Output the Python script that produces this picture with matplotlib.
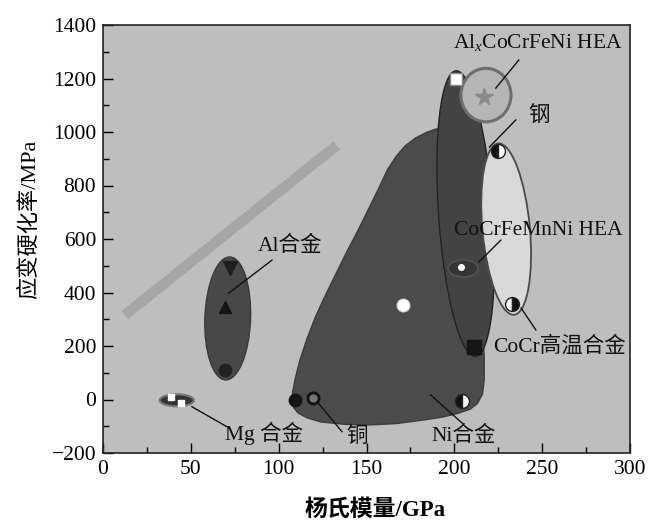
import numpy as np
import matplotlib
matplotlib.use('Agg')
import matplotlib.pyplot as plt
from matplotlib.patches import Ellipse
from matplotlib.transforms import Affine2D
from matplotlib.ticker import MultipleLocator

plt.rcParams['font.family'] = ['Liberation Serif', 'Noto Sans CJK SC', 'DejaVu Sans']
plt.rcParams['mathtext.fontset'] = 'custom'
plt.rcParams['mathtext.rm'] = 'Liberation Serif'
plt.rcParams['mathtext.it'] = 'Liberation Serif:italic'

# big Cu / Ni region outline (GPa, MPa)
big_x = [193, 189, 184, 178, 172, 167, 162, 157, 151, 145, 139, 133, 127, 121, 116, 112, 109.5,
         108, 107.5, 108.5, 111, 116, 124, 138, 152, 167, 181, 193, 202, 209, 213, 216, 217,
         217, 216, 212, 205, 199]
big_y = [1015, 1010, 998, 978, 948, 910, 860, 790, 710, 630, 555, 475, 395, 310, 225, 145, 80,
         30, 0, -30, -50, -68, -84, -93, -95, -90, -78, -66, -52, -36, -16, 20, 73,
         160, 300, 600, 850, 990]

# reference band
band_x = [12.5, 133]
band_y = [316, 950]

# ellipses: centre x, centre y, width (GPa), height (MPa), tilt (deg)
ell_names = ['Al', 'Mg', 'steel', 'CoCr', 'CoCrFeMnNi', 'AlxCoCrFeNi']
ell_cx = [71, 42, 206.5, 229.5, 205, 218]
ell_cy = [303, -3, 695, 637, 490, 1138]
ell_w = [26, 19.5, 31, 27, 17, 28.5]
ell_h = [460, 45, 1070, 643, 64, 200]
ell_ang = [-2, 0, 3.9, 5.3, 0, 0]

# markers
al_x = [72.4, 69.6, 69.6]
al_y = [491, 346, 110]
mg_x = [38.7, 44.6]
mg_y = [8, -13]
cu_x = [109.5, 119.8]
cu_y = [-3, 4]
ni_x, ni_y = 204.6, -5
white_x, white_y = 171, 355
sq_x, sq_y = 211, 197
cocr_x = [233, 225]
cocr_y = [357, 930]
steel_sq_x, steel_sq_y = 201, 1200
star_x, star_y = 217, 1131
hea_x, hea_y = 203.6, 495

# labels: text, text centre, leader start, leader end
lab_text = [r'Al$_{x}$CoCrFeNi HEA', '钢', 'CoCrFeMnNi HEA', 'CoCr高温合金',
            'Ni合金', '铜', 'Mg 合金', 'Al合金']
lab_xy = [(247.6, 1333), (248, 1056), (247.8, 632), (260, 197),
          (205.5, -138), (144.5, -140), (91.5, -125), (106.7, 575)]
lead_from = [(223.6, 1164), (220, 944), (214, 514), (238, 342),
             (186.5, 17), (122.6, -14), (50.6, -27), (71.5, 397)]
lead_to = [(236.7, 1269), (235, 1045), (226.5, 596), (246.4, 260),
           (204.6, -89), (136, -120), (70.6, -102), (96.2, 521)]

fig = plt.figure(figsize=(6.55, 5.28), dpi=100)
ax = fig.add_axes([103 / 655, 1 - 453 / 528, 527 / 655, 428 / 528])
ax.set_xlim(0, 300)
ax.set_ylim(-200, 1400)
ax.set_facecolor('#bebebe')

# y units per x unit on screen, so tilted ellipses look right
k = (1600 / 428.0) / (300 / 527.0)

def add_ell(i, fc, ec, lw, z):
    tr = Affine2D().scale(1, k) + ax.transData
    e = Ellipse((ell_cx[i], ell_cy[i] / k), ell_w[i], ell_h[i] / k, angle=ell_ang[i],
                transform=tr, facecolor=fc, edgecolor=ec, linewidth=lw, zorder=z)
    ax.add_patch(e)

ax.plot(band_x, band_y, color='#a6a6a6', lw=7.5, solid_capstyle='butt', zorder=1)

ax.fill(big_x, big_y, facecolor='#4b4b4b', edgecolor='#3c3c3c', lw=1, joinstyle='round', zorder=2)
add_ell(0, '#484848', '#3a3a3a', 1, 2)
add_ell(1, '#333333', '#777777', 1.5, 2)
add_ell(2, '#434343', '#222222', 1, 3)
add_ell(3, '#d9d9d9', '#4a4a4a', 1.3, 4)
add_ell(4, '#363636', '#555555', 1, 5)
add_ell(5, '#b6b6b6', '#6e6e6e', 2.2, 5)

mk = dict(linestyle='none', zorder=6)
ax.plot(al_x[0], al_y[0], marker='v', ms=10, color='#1e1e1e', **mk)
ax.plot(al_x[1], al_y[1], marker='^', ms=9, color='#151515', **mk)
ax.plot(al_x[2], al_y[2], marker='o', ms=9, color='#222222', **mk)
ax.plot(mg_x, mg_y, marker='s', ms=5, color='white', **mk)
ax.plot(cu_x[0], cu_y[0], marker='o', ms=9, color='#151515', **mk)
ax.plot(cu_x[1], cu_y[1], marker='o', ms=8, mfc='#777777', mec='#111111', mew=2, **mk)
ax.plot(ni_x, ni_y, marker='o', ms=10, fillstyle='left', mfc='#111111', mfcalt='white', mec='#222222', **mk)
ax.plot(white_x, white_y, marker='o', ms=9, mfc='white', mec='#dddddd', **mk)
ax.plot(sq_x, sq_y, marker='s', ms=10, color='#151515', **mk)
ax.plot(cocr_x[0], cocr_y[0], marker='o', ms=10, fillstyle='left', mfc='white', mfcalt='#111111', mec='#222222', **mk)
ax.plot(cocr_x[1], cocr_y[1], marker='o', ms=10, fillstyle='left', mfc='#111111', mfcalt='white', mec='#222222', **mk)
ax.plot(steel_sq_x, steel_sq_y, marker='s', ms=9, mfc='white', mec='#888888', **mk)
ax.plot(star_x, star_y, marker='*', ms=13, color='#8a8a8a', **mk)
ax.plot(hea_x, hea_y, marker='o', ms=4, color='white', **mk)

for t, xy, a, b in zip(lab_text, lab_xy, lead_from, lead_to):
    ax.plot([a[0], b[0]], [a[1], b[1]], color='#111111', lw=1, zorder=7)
    ax.text(xy[0], xy[1], t, ha='center', va='center', fontsize=15.5, color='#111111', zorder=8)

ax.xaxis.set_major_locator(MultipleLocator(50))
ax.xaxis.set_minor_locator(MultipleLocator(25))
ax.yaxis.set_major_locator(MultipleLocator(200))
ax.yaxis.set_minor_locator(MultipleLocator(100))
ax.tick_params(which='both', direction='in', top=False, right=False, width=1, labelsize=15.5)
ax.tick_params(which='major', length=7, pad=5)
ax.tick_params(which='minor', length=4)
for s in ax.spines.values():
    s.set_linewidth(1.2)
    s.set_color('#222222')

fig.text(375 / 655, 1 - 510 / 528, '杨氏模量/GPa', ha='center', va='center',
         fontsize=16.5, fontweight='bold')
fig.text(30 / 655, 1 - 219 / 528, '应变硬化率/MPa', ha='center', va='center',
         rotation=90, fontsize=16)

fig.savefig('out.png', dpi=100)
